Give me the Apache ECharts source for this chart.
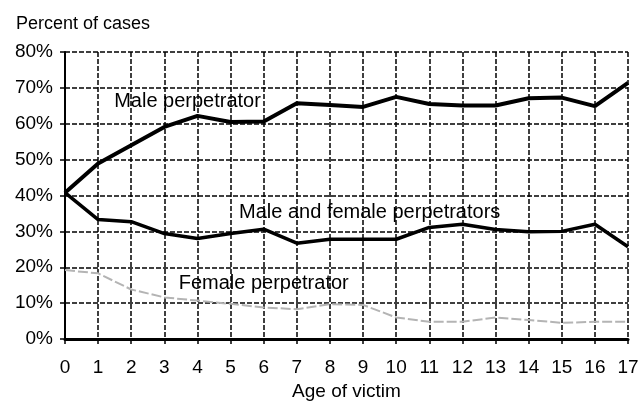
<!DOCTYPE html>
<html>
<head>
<meta charset="utf-8">
<script src="https://cdn.jsdelivr.net/npm/echarts@6/dist/echarts.min.js"></script>
<style>
  html, body { margin: 0; padding: 0; background: #fff; }
  #chart { width: 642px; height: 403px; }
</style>
</head>
<body>
<div id="chart"></div>
<script>
  // age of victim
  const ages = [0, 1, 2, 3, 4, 5, 6, 7, 8, 9, 10, 11, 12, 13, 14, 15, 16, 17]
  // percent of cases
  const malePerp = [40.8, 48.9, 54, 59.1, 62.2, 60.5, 60.6, 65.7, 65.2, 64.7, 67.5, 65.5, 65.1, 65.1, 67.1, 67.3, 64.9, 71.4]
  const bothPerp = [40.8, 33.3, 32.7, 29.4, 28, 29.4, 30.6, 26.7, 27.8, 27.8, 27.8, 31.1, 32, 30.5, 29.9, 30, 32, 25.7]
  const femalePerp = [19.2, 18.3, 13.8, 11.6, 10.7, 9.8, 8.8, 8.3, 9.7, 9.5, 6, 4.8, 4.8, 6, 5.3, 4.5, 4.8, 4.8]
  const yTicks = [0, 10, 20, 30, 40, 50, 60, 70, 80]

  const font = 'Liberation Sans, Arial, sans-serif'

  function pairs(values) {
    return values.map((v, i) => [ages[i], v])
  }

  // series name written inside the plot, centred on a data coordinate
  function labelAt(text, x, y) {
    return {
      symbol: 'circle',
      symbolSize: 0,
      data: [{ coord: [x, y], value: text }],
      label: {
        show: true,
        position: 'inside',
        formatter: text,
        color: '#000',
        fontSize: 20,
        fontFamily: font
      }
    }
  }

  const chart = echarts.init(document.getElementById('chart'))
  chart.setOption({
    animation: false,
    textStyle: { fontFamily: font },
    grid: { left: 65, right: 14, top: 52, bottom: 64, outerBoundsMode: 'none', containLabel: false },
    title: {
      text: 'Percent of cases',
      left: 11,
      top: 10,
      textStyle: { fontSize: 18, fontWeight: 'normal', color: '#000', fontFamily: font }
    },
    xAxis: {
      type: 'value',
      min: ages[0],
      max: ages[ages.length - 1],
      interval: 1,
      name: 'Age of victim',
      nameLocation: 'middle',
      nameGap: 43,
      nameTextStyle: { fontSize: 19, color: '#000' },
      axisLine: { lineStyle: { color: '#000', width: 3 } },
      axisTick: { show: true, length: 5, lineStyle: { color: '#000', width: 1.5 } },
      axisLabel: { fontSize: 19, color: '#000', margin: 19, showMinLabel: true, showMaxLabel: true },
      splitLine: { show: true, lineStyle: { color: '#000', width: 1.5, type: [5, 2] } }
    },
    yAxis: {
      type: 'value',
      min: yTicks[0],
      max: yTicks[yTicks.length - 1],
      interval: 10,
      axisLine: { show: true, lineStyle: { color: '#000', width: 2 } },
      axisTick: { show: true, length: 5, lineStyle: { color: '#000', width: 1.5 } },
      axisLabel: { fontSize: 19, color: '#000', margin: 12, formatter: '{value}%' },
      splitLine: { show: true, lineStyle: { color: '#000', width: 1.5, type: [5, 2] } }
    },
    series: [
      {
        name: 'Male perpetrator',
        type: 'line',
        data: pairs(malePerp),
        symbol: 'none',
        lineStyle: { color: '#000', width: 4 },
        markPoint: labelAt('Male perpetrator', 3.7, 66.3)
      },
      {
        name: 'Male and female perpetrators',
        type: 'line',
        data: pairs(bothPerp),
        symbol: 'none',
        lineStyle: { color: '#000', width: 3.5 },
        markPoint: labelAt('Male and female perpetrators', 9.2, 35.4)
      },
      {
        name: 'Female perpetrator',
        type: 'line',
        data: pairs(femalePerp),
        symbol: 'none',
        lineStyle: { color: '#b4b4b4', width: 2, type: [10, 3] },
        markPoint: labelAt('Female perpetrator', 6.0, 15.6)
      }
    ]
  })
</script>
</body>
</html>
